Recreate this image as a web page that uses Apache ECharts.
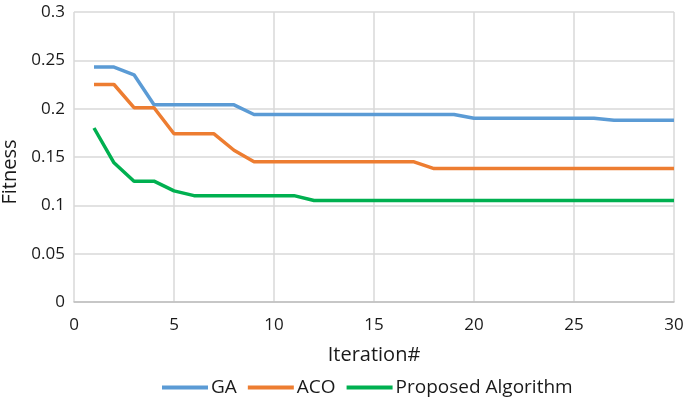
<!DOCTYPE html>
<html><head><meta charset="utf-8">
<script src="https://cdn.jsdelivr.net/npm/echarts@6/dist/echarts.min.js"></script>
<style>html,body{margin:0;padding:0;background:#fff}#c{width:685px;height:399px}</style>
</head><body><div id="c"></div>
<script>
const iterations = [1,2,3,4,5,6,7,8,9,10,11,12,13,14,15,16,17,18,19,20,21,22,23,24,25,26,27,28,29,30];
const gaValues  = [0.243,0.243,0.235,0.204,0.204,0.204,0.204,0.204,0.194,0.194,0.194,0.194,0.194,0.194,0.194,0.194,0.194,0.194,0.194,0.19,0.19,0.19,0.19,0.19,0.19,0.19,0.188,0.188,0.188,0.188];
const acoValues = [0.225,0.225,0.201,0.201,0.174,0.174,0.174,0.157,0.145,0.145,0.145,0.145,0.145,0.145,0.145,0.145,0.145,0.138,0.138,0.138,0.138,0.138,0.138,0.138,0.138,0.138,0.138,0.138,0.138,0.138];
const propValues= [0.18,0.144,0.125,0.125,0.115,0.11,0.11,0.11,0.11,0.11,0.11,0.105,0.105,0.105,0.105,0.105,0.105,0.105,0.105,0.105,0.105,0.105,0.105,0.105,0.105,0.105,0.105,0.105,0.105,0.105];
const seriesNames = ['GA','ACO','Proposed Algorithm'];
const colors = ['#5B9BD5','#ED7D31','#00B050'];
const pair = v => iterations.map((x,i)=>[x,v[i]]);
const chart = echarts.init(document.getElementById('c'));
const font = 'Open Sans';
const txt = '#1a1a1a';
chart.setOption({
  animation:false,
  color:colors,
  grid:{left:74,right:11,top:12,bottom:97,containLabel:false,outerBoundsMode:'none'},
  xAxis:{type:'value',min:0,max:30,interval:5,name:'Iteration#',nameLocation:'middle',nameGap:43,
    nameTextStyle:{fontFamily:font,fontSize:20,color:txt},
    axisLine:{show:true,lineStyle:{color:'#bfbfbf',width:1.5}},axisTick:{show:false},
    axisLabel:{fontFamily:font,fontSize:17,color:txt,margin:15},
    splitLine:{show:true,lineStyle:{color:'#d9d9d9',width:1.5}}},
  yAxis:{type:'value',min:0,max:0.3,interval:0.05,name:'Fitness',nameLocation:'middle',nameGap:52,
    nameTextStyle:{fontFamily:font,fontSize:20,color:txt,padding:[0,30,0,0]},
    axisLine:{show:false},axisTick:{show:false},
    axisLabel:{fontFamily:font,fontSize:17,color:txt,margin:9,formatter:v=>String(Math.round(v*100)/100)},
    splitLine:{show:true,lineStyle:{color:'#d9d9d9',width:1.5}}},
  legend:{top:373,left:157,itemWidth:46,itemHeight:4,itemGap:11,icon:'rect',
    textStyle:{fontFamily:font,fontSize:19,color:txt,padding:[0,0,0,-2]},data:seriesNames},
  series:[
    {name:seriesNames[0],type:'line',data:pair(gaValues),showSymbol:false,lineStyle:{width:3.5}},
    {name:seriesNames[1],type:'line',data:pair(acoValues),showSymbol:false,lineStyle:{width:3.5}},
    {name:seriesNames[2],type:'line',data:pair(propValues),showSymbol:false,lineStyle:{width:3.5}}
  ]
});
</script></body></html>
